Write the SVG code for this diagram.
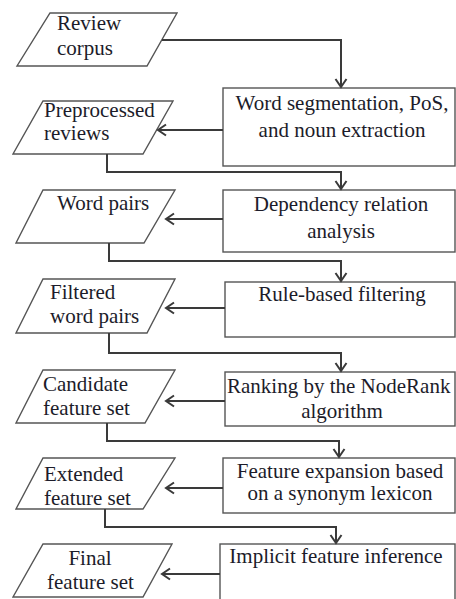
<svg xmlns="http://www.w3.org/2000/svg" width="456" height="599" viewBox="0 0 456 599">
  <defs>
    <marker id="chev" markerUnits="userSpaceOnUse" markerWidth="14" markerHeight="14" viewBox="0 0 14 14" refX="11" refY="7" orient="auto">
      <path d="M3,1.5 L11,7 L3,12.5" fill="none" stroke="#3a3a3a" stroke-width="2"/>
    </marker>
  </defs>
  <style>
    .shape { fill: #ffffff; stroke: #555555; stroke-width: 1.4; }
    .link { fill: none; stroke: #3a3a3a; stroke-width: 2; marker-end: url(#chev); }
    text { font-family: 'Liberation Serif', 'DejaVu Serif', serif; font-size: 21px; fill: #1c1c2a; }
    .c { text-anchor: middle; }
  </style>

  <rect width="456" height="599" fill="#ffffff"/>

  <!-- data items (parallelograms) -->
  <g id="review-corpus">
    <polygon class="shape" points="50,13 177,13 147,66 17,66"/>
    <text x="57" y="30">Review</text>
    <text x="57" y="55">corpus</text>
  </g>
  <g id="preprocessed-reviews">
    <polygon class="shape" points="43,101 173,101 143,154 13,154"/>
    <text x="44" y="117">Preprocessed</text>
    <text x="44" y="140">reviews</text>
  </g>
  <g id="word-pairs">
    <polygon class="shape" points="43,190 175,190 144,243 16,243"/>
    <text x="57" y="210">Word pairs</text>
  </g>
  <g id="filtered-word-pairs">
    <polygon class="shape" points="43,279 175,279 147,333 16,333"/>
    <text x="50" y="299">Filtered</text>
    <text x="50" y="323">word pairs</text>
  </g>
  <g id="candidate-feature-set">
    <polygon class="shape" points="43,370 175,370 145,423 16,423"/>
    <text x="43" y="391">Candidate</text>
    <text x="43" y="415">feature set</text>
  </g>
  <g id="extended-feature-set">
    <polygon class="shape" points="43,458 175,458 143,509 16,509"/>
    <text x="44" y="481">Extended</text>
    <text x="44" y="505">feature set</text>
  </g>
  <g id="final-feature-set">
    <polygon class="shape" points="43,544 172,544 143,597 13,597"/>
    <text class="c" x="90" y="565">Final</text>
    <text x="47" y="589">feature set</text>
  </g>

  <!-- processing steps (rectangles) -->
  <g id="segmentation">
    <rect class="shape" x="223" y="88" width="232" height="78"/>
    <text class="c" x="342" y="110">Word segmentation, PoS,</text>
    <text class="c" x="342" y="137">and noun extraction</text>
  </g>
  <g id="dependency-analysis">
    <rect class="shape" x="223" y="190" width="232" height="62"/>
    <text class="c" x="341" y="211">Dependency relation</text>
    <text class="c" x="341" y="238">analysis</text>
  </g>
  <g id="rule-filtering">
    <rect class="shape" x="225" y="282" width="230" height="55"/>
    <text class="c" x="342" y="301">Rule-based filtering</text>
  </g>
  <g id="noderank">
    <rect class="shape" x="225" y="372" width="230" height="54"/>
    <text x="227" y="393">Ranking by the NodeRank</text>
    <text class="c" x="342" y="418">algorithm</text>
  </g>
  <g id="feature-expansion">
    <rect class="shape" x="223" y="458" width="232" height="55"/>
    <text class="c" x="340" y="478">Feature expansion based</text>
    <text class="c" x="340" y="500">on a synonym lexicon</text>
  </g>
  <g id="implicit-inference">
    <rect class="shape" x="220" y="544" width="235" height="60"/>
    <text class="c" x="336" y="563">Implicit feature inference</text>
  </g>

  <!-- connectors -->
  <g id="connectors">
    <path class="link" d="M162,40 H341 V87"/>
    <path class="link" d="M107,154 V172 H341 V189"/>
    <path class="link" d="M109,243 V261 H341 V281"/>
    <path class="link" d="M109,333 V353 H341 V371"/>
    <path class="link" d="M107,423 V441 H339 V457"/>
    <path class="link" d="M105,509 V527 H336 V543"/>

    <path class="link" d="M223,130 H158"/>
    <path class="link" d="M223,219 H166"/>
    <path class="link" d="M225,308 H166"/>
    <path class="link" d="M225,401 H166"/>
    <path class="link" d="M223,488 H166"/>
    <path class="link" d="M220,574 H162"/>
  </g>
</svg>
